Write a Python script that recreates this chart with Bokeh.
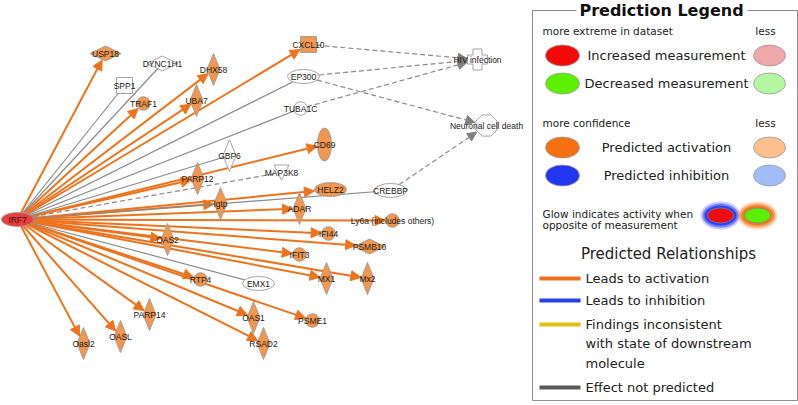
import math
from bokeh.plotting import figure
from bokeh.models import Range1d, ColumnDataSource, Arrow, NormalHead
from bokeh.core.properties import value
from bokeh.embed import file_html
from bokeh.resources import INLINE

# ---------------- network data ----------------
node_names = ["IRF7", "USP18", "DYNC1H1", "SPP1", "TRAF1", "DHX58", "UBA7", "CXCL10",
              "EP300", "TUBA1C", "GBP6", "CD69", "MAP3K8", "PARP12", "HELZ2", "CREBBP",
              "Igtp", "ADAR", "Ly6a (includes others)", "IFI44", "PSMB10", "IFIT3", "OAS2",
              "MX1", "Mx2", "RTP4", "EMX1", "PARP14", "OASL", "Oasl2", "OAS1", "PSME1",
              "RSAD2", "HIV infection", "Neuronal cell death"]
node_x = [17, 105, 162, 124, 143, 213, 196, 308, 303, 300, 229, 324, 281, 197, 330, 390,
          220, 299, 392, 328, 369, 299, 167, 326, 367, 200, 258, 149, 120, 83, 253, 312,
          263, 477, 486]
node_y = [219, 53, 63, 85, 103, 69, 100, 44, 76, 108, 155, 144, 172, 178, 189, 190,
          203, 208, 220, 233, 246, 254, 239, 278, 278, 279, 283, 314, 336, 343, 317, 320,
          343, 59, 125]
node_shape = ["hellipse", "hdiamond", "hdiamond", "square", "circle", "vdiamond", "vdiamond",
              "square", "hellipse", "circle", "vdiamond", "vellipse", "triangle", "vdiamond",
              "hellipse", "hellipse", "vdiamond", "vdiamond", "circle", "circle", "hdiamond",
              "circle", "vdiamond", "vdiamond", "vdiamond", "circle", "hellipse", "vdiamond",
              "vdiamond", "vdiamond", "vdiamond", "circle", "vdiamond", "cross", "octagon"]
node_state = ["measured", "predicted", "none", "none", "predicted", "predicted", "predicted",
              "predicted", "none", "none", "none", "predicted", "none", "predicted",
              "predicted", "none", "predicted", "predicted", "predicted", "predicted",
              "predicted", "predicted", "predicted", "predicted", "predicted", "predicted",
              "none", "predicted", "predicted", "predicted", "predicted", "predicted",
              "predicted", "none", "none"]

edge_src = ["IRF7"] * 32 + ["CXCL10", "EP300", "TUBA1C", "EP300", "CREBBP"]
edge_dst = ["USP18", "TRAF1", "DHX58", "UBA7", "CXCL10", "CD69", "PARP12", "HELZ2", "Igtp",
            "ADAR", "Ly6a (includes others)", "IFI44", "PSMB10", "IFIT3", "OAS2", "MX1",
            "Mx2", "RTP4", "PSME1", "OAS1", "RSAD2", "PARP14", "OASL", "Oasl2",
            "SPP1", "DYNC1H1", "EP300", "TUBA1C", "GBP6", "CREBBP", "EMX1", "MAP3K8",
            "HIV infection", "HIV infection", "HIV infection", "Neuronal cell death",
            "Neuronal cell death"]
edge_kind = ["activation"] * 24 + ["plain"] * 7 + ["dashed"] + ["dashed_arrow"] * 5

# ---------------- legend data ----------------
legend_title = "Prediction Legend"
legend_small = ["more extreme in dataset", "less", "more confidence", "less",
                "Glow indicates activity when", "opposite of measurement"]
legend_states = ["Increased measurement", "Decreased measurement",
                 "Predicted activation", "Predicted inhibition"]
legend_strong = ["#F00A0A", "#5CF000", "#F57010", "#2236F0"]
legend_weak = ["#EFA8AA", "#B4F6A2", "#FFBF8E", "#A2BCF8"]
rel_labels = ["Leads to activation", "Leads to inhibition",
              "Findings inconsistent\nwith state of downstream\nmolecule", "Effect not predicted"]
rel_colors = ["#F07020", "#2440E8", "#E0C010", "#5A5A5A"]

ORANGE_NODE = "#F1974F"
ORANGE_EDGE = "#EC7420"
GRAY_EDGE = "#8A8A8A"
fills = {"measured": "#EE3A3A", "predicted": ORANGE_NODE, "none": "#FFFFFF"}
half = {"hellipse": (16, 7), "vellipse": (7, 16.5), "circle": (6.8, 6.8),
        "vdiamond": (6.5, 16), "hdiamond": (15.5, 7.5), "square": (8, 8),
        "triangle": (7.5, 7.5), "cross": (10, 10.5), "octagon": (11.5, 11.5)}

p = figure(width=798, height=405, x_range=Range1d(0, 798), y_range=Range1d(405, 0),
           output_backend="svg", toolbar_location=None, min_border=0)
p.axis.visible = False
p.grid.visible = False
p.outline_line_color = None
p.background_fill_color = "white"

idx = {n: i for i, n in enumerate(node_names)}


def boundary(i, ux, uy):
    shp = node_shape[i]
    a, b = half[shp]
    if shp in ("hellipse", "vellipse", "circle", "octagon"):
        return 1.0 / math.sqrt((ux / a) ** 2 + (uy / b) ** 2)
    if shp in ("vdiamond", "hdiamond"):
        return 1.0 / (abs(ux) / a + abs(uy) / b)
    return 1.0 / max(abs(ux) / a, abs(uy) / b)


groups = {k: dict(x0=[], y0=[], x1=[], y1=[]) for k in
          ("activation", "plain", "dashed", "dashed_arrow")}
for s, d, k in zip(edge_src, edge_dst, edge_kind):
    i, j = idx[s], idx[d]
    x0, y0, x1, y1 = node_x[i], node_y[i], node_x[j], node_y[j]
    L = math.hypot(x1 - x0, y1 - y0)
    ux, uy = (x1 - x0) / L, (y1 - y0) / L
    if k in ("activation", "dashed_arrow"):
        r = boundary(j, ux, uy) + 0.5
        x1, y1 = x1 - ux * r, y1 - uy * r
    if s != "IRF7":
        r0 = boundary(i, ux, uy)
        x0, y0 = x0 + ux * r0, y0 + uy * r0
    g = groups[k]
    g["x0"].append(x0); g["y0"].append(y0); g["x1"].append(x1); g["y1"].append(y1)

p.segment("x0", "y0", "x1", "y1", source=ColumnDataSource(groups["plain"]),
          line_color=GRAY_EDGE, line_width=1.2)
p.segment("x0", "y0", "x1", "y1", source=ColumnDataSource(groups["dashed"]),
          line_color=GRAY_EDGE, line_width=1.2, line_dash="5 3")
p.add_layout(Arrow(end=NormalHead(size=10, fill_color=ORANGE_EDGE, line_color=ORANGE_EDGE),
                   x_start="x0", y_start="y0", x_end="x1", y_end="y1",
                   source=ColumnDataSource(groups["activation"]),
                   line_color=ORANGE_EDGE, line_width=2, level="underlay"))
p.add_layout(Arrow(end=NormalHead(size=9, fill_color="#808080", line_color="#808080"),
                   x_start="x0", y_start="y0", x_end="x1", y_end="y1",
                   source=ColumnDataSource(groups["dashed_arrow"]),
                   line_color=GRAY_EDGE, line_width=1.2, line_dash="5 3", level="underlay"))

# nodes
ell = dict(x=[], y=[], w=[], h=[], c=[])
pat = dict(xs=[], ys=[], c=[])
for n, x, y, shp, st in zip(node_names, node_x, node_y, node_shape, node_state):
    a, b = half[shp]
    c = fills[st]
    if shp in ("hellipse", "vellipse", "circle"):
        ell["x"].append(x); ell["y"].append(y); ell["w"].append(2 * a); ell["h"].append(2 * b)
        ell["c"].append(c)
        continue
    if shp in ("vdiamond", "hdiamond"):
        xs = [x, x + a, x, x - a]; ys = [y - b, y, y + b, y]
    elif shp == "square":
        xs = [x - a, x + a, x + a, x - a]; ys = [y - b, y - b, y + b, y + b]
    elif shp == "triangle":
        xs = [x - a, x + a, x]; ys = [y - b, y - b, y + b]
    elif shp == "cross":
        t = 4.5
        xs = [x - t, x + t, x + t, x + a, x + a, x + t, x + t, x - t, x - t, x - a, x - a, x - t]
        ys = [y - b, y - b, y - t, y - t, y + t, y + t, y + b, y + b, y + t, y + t, y - t, y - t]
    else:
        xs = [x + a * math.cos(math.pi / 8 + k * math.pi / 4) for k in range(8)]
        ys = [y + b * math.sin(math.pi / 8 + k * math.pi / 4) for k in range(8)]
    pat["xs"].append(xs); pat["ys"].append(ys); pat["c"].append(c)

p.patches("xs", "ys", source=ColumnDataSource(pat), fill_color="c",
          line_color="#9A9A9A", line_width=0.9)
p.ellipse("x", "y", width="w", height="h", source=ColumnDataSource(ell), fill_color="c",
          line_color="#9A9A9A", line_width=0.9)
p.text(node_x, node_y, text=node_names, text_font=value("Liberation Sans"),
       text_font_size="8.5px", text_color="#1A1A1A", text_align="center",
       text_baseline="middle")

# ---------------- legend ----------------
p.quad(left=[532], right=[797], top=[10], bottom=[400], fill_color=None,
       line_color="#8C8C8C", line_width=1)
p.quad(left=[576], right=[747], top=[0], bottom=[20], fill_color="white", line_color=None)
p.text([661], [10], text=[legend_title], text_font=value("DejaVu Sans"),
       text_font_style="bold", text_font_size="16px", text_color="#111111",
       text_align="center", text_baseline="middle")

p.text([542, 765, 542, 765], [30, 30, 122, 122], text=legend_small[:4],
       text_font=value("DejaVu Sans"), text_font_size="10.5px", text_color="#222222",
       text_align=["left", "center", "left", "center"], text_baseline="middle")
p.text([542, 542], [213, 224], text=legend_small[4:], text_font=value("DejaVu Sans"),
       text_font_size="10.5px", text_color="#222222", text_align="left",
       text_baseline="middle")

sy = [55, 83, 147, 175]
p.ellipse([562] * 4, sy, width=34, height=21, fill_color=legend_strong,
          line_color="#999999", line_width=0.8)
p.ellipse([769] * 4, sy, width=32, height=21, fill_color=legend_weak,
          line_color="#999999", line_width=0.8)
p.text([666] * 4, sy, text=legend_states, text_font=value("DejaVu Sans"),
       text_font_size="13px", text_color="#222222", text_align="center",
       text_baseline="middle")

# glow examples
glow_x = [720, 757]
glow_col = [legend_strong[3], legend_strong[2]]
core_col = [legend_strong[0], legend_strong[1]]
for w, h, al in ((40, 28, 0.25), (36, 24, 0.5), (32, 20, 0.85)):
    p.ellipse(glow_x, [215, 215], width=w, height=h, fill_color=glow_col, fill_alpha=al,
              line_color=None)
p.ellipse(glow_x, [215, 215], width=26, height=15, fill_color=core_col,
          line_color="#8080A0", line_width=0.8)

p.text([668], [253], text=["Predicted Relationships"], text_font=value("DejaVu Sans"),
       text_font_size="15px", text_color="#222222", text_align="center",
       text_baseline="middle")
ry = [278, 300, 324, 387]
p.segment([539] * 4, ry, [580] * 4, ry, line_color=rel_colors, line_width=4)
p.text([585] * 4, [y - 8 for y in ry], text=rel_labels, text_font=value("DejaVu Sans"),
       text_font_size="13px", text_color="#222222", text_align="left",
       text_baseline="top", text_line_height=1.3)

open("out.html", "w").write(file_html(p, INLINE))
